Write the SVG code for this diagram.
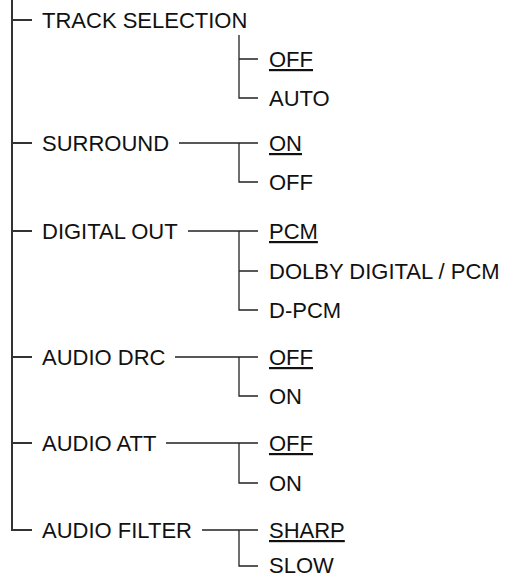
<svg xmlns="http://www.w3.org/2000/svg" width="510" height="578" viewBox="0 0 510 578">
<style>
text{font-family:"Liberation Sans",Arial,sans-serif;font-size:22px;fill:#111}
.u{text-decoration:underline}
.ln{stroke:#222;stroke-width:1.3;fill:none}
.main{stroke:#333;stroke-width:2;fill:none}
</style>
<rect width="510" height="578" fill="#fff"/>
<g id="connectors">
<path class="main" d="M12 0V530H32M12 20H32M12 143H32M12 231H32M12 357H32M12 443H32"/>
<path class="ln" d="M239 35V98H258M239 59H258"/>
<path class="ln" d="M179 143H258M239 143V182H258"/>
<path class="ln" d="M188 231H258M239 231V310H258M239 271H258"/>
<path class="ln" d="M175 357H258M239 357V396H258"/>
<path class="ln" d="M166 443H258M239 443V483H258"/>
<path class="ln" d="M202 530H258M239 530V566H258"/>
</g>
<g id="track-selection"><text x="42" y="28">TRACK SELECTION</text></g>
<g id="track-off"><text class="u" x="269" y="67">OFF</text></g>
<g id="track-auto"><text x="269" y="106">AUTO</text></g>
<g id="surround"><text x="42" y="151">SURROUND</text></g>
<g id="surround-on"><text class="u" x="269" y="151">ON</text></g>
<g id="surround-off"><text x="269" y="190">OFF</text></g>
<g id="digital-out"><text x="42" y="239">DIGITAL OUT</text></g>
<g id="pcm"><text class="u" x="269" y="239">PCM</text></g>
<g id="dolby"><text x="269" y="279">DOLBY DIGITAL / PCM</text></g>
<g id="dpcm"><text x="269" y="318">D-PCM</text></g>
<g id="audio-drc"><text x="42" y="365">AUDIO DRC</text></g>
<g id="drc-off"><text class="u" x="269" y="365">OFF</text></g>
<g id="drc-on"><text x="269" y="404">ON</text></g>
<g id="audio-att"><text x="42" y="451">AUDIO ATT</text></g>
<g id="att-off"><text class="u" x="269" y="451">OFF</text></g>
<g id="att-on"><text x="269" y="491">ON</text></g>
<g id="audio-filter"><text x="42" y="538">AUDIO FILTER</text></g>
<g id="sharp"><text class="u" x="269" y="538">SHARP</text></g>
<g id="slow"><text x="269" y="573">SLOW</text></g>
</svg>
